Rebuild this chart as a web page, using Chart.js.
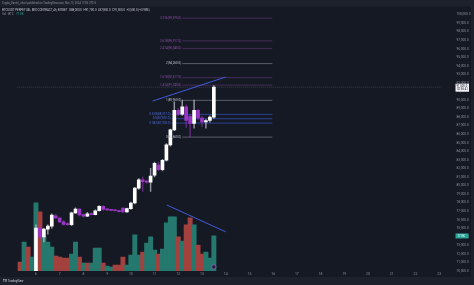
<!DOCTYPE html>
<html>
<head>
<meta charset="utf-8">
<script src="https://cdn.jsdelivr.net/npm/chart.js@4.4.1/dist/chart.umd.min.js"></script>
<style>
  html, body { margin: 0; padding: 0; background: #151924; }
  canvas { display: block; }
</style>
</head>
<body>
<canvas id="btc" width="474" height="285"></canvas>
<script>
// day labels under the time axis, one every 6 candles (4h bars)
const dayLabels = ['6', '7', '8', '9', '10', '11', '12', '13', '14', '15', '16', '17', '18', '19', '20', '21', '22', '23'];
const candlesPerDay = 6;

const priceTicks = [70000, 71000, 72000, 73000, 74000, 75000, 76000, 77000, 78000, 79000, 80000,
    81000, 82000, 83000, 84000, 85000, 86000, 87000, 88000, 89000, 90000,
    91000, 92000, 93000, 94000, 95000, 96000, 97000, 98000, 99000, 100000];

// candles, first one is bar index 0
const firstCandle = 0;
const opens = [69600, 75030, 74000, 74900, 75250, 76450, 76200, 75750, 75500, 75420,
    76800, 77250, 76600, 76400, 76700, 76600, 77050, 77550, 77200, 77150,
    77100, 77050, 77350, 76900, 77300, 77950, 79700, 80650, 80450, 80400,
    81200, 82400, 81850, 82950, 84750, 86500, 88800, 88350, 89200, 88100,
    87250, 88800, 87900, 87450, 87600, 88000];
const highs = [75400, 75350, 75000, 75400, 76700, 76650, 76300, 75900, 75650, 76900,
    77400, 77300, 76700, 76850, 76800, 77150, 77650, 77650, 77250, 77200,
    77150, 77100, 77400, 77350, 78050, 79800, 80800, 81000, 80600, 82000,
    82750, 82700, 83050, 84900, 86600, 89800, 89000, 90000, 89400, 88300,
    90000, 88900, 88100, 87700, 88150, 91700];
const lows = [69400, 73700, 73400, 74300, 75000, 76150, 75650, 75350, 75350, 75300,
    76700, 76450, 76300, 76350, 76550, 76550, 77000, 77100, 77100, 77050,
    77000, 76900, 76850, 76850, 77200, 77850, 79550, 79300, 80250, 79300,
    81000, 81750, 81700, 82850, 84600, 86400, 88200, 88200, 86800, 85700,
    86700, 87750, 86900, 86700, 87400, 87850];
const closes = [75030, 74000, 74900, 75250, 76550, 76200, 75750, 75450, 75420, 76800,
    77250, 76550, 76400, 76700, 76600, 77050, 77550, 77200, 77150, 77100,
    77050, 76950, 76900, 77300, 77950, 79700, 80650, 80450, 80400, 81100,
    82600, 81850, 82950, 84750, 86500, 88800, 88350, 89200, 87600, 87250,
    88800, 87900, 87450, 87600, 88000, 91500];

// volume (thousand BTC), starts 4 bars before the first visible candle
const firstVolume = -4;
const volumes = [19.8, 63.8, 52.8, 30.8, 149.6, 129.8, 74.8, 63.8, 52.8, 33.0,
    30.8, 28.6, 28.6, 37.4, 63.8, 30.8, 17.6, 17.6, 17.6, 50.6,
    50.6, 17.6, 11.0, 8.8, 13.2, 13.2, 30.8, 13.2, 35.2, 79.2,
    35.2, 41.8, 61.6, 74.8, 46.2, 37.4, 48.4, 105.6, 118.8, 118.8,
    74.8, 66.0, 101.2, 116.6, 101.2, 57.2, 37.4, 41.8, 28.6, 77.0];
const volumeUp = [0, 1, 0, 1, 1, 0, 1, 1, 1, 0,
    0, 0, 0, 1, 1, 0, 1, 0, 1, 1,
    1, 0, 1, 1, 0, 0, 0, 1, 1, 1,
    1, 0, 1, 1, 1, 0, 1, 1, 1, 1,
    0, 1, 0, 0, 1, 0, 0, 1, 1, 1];

// fib drawing
const fibLevels = [3.236, 2.618, 2.414, 2, 1.618, 1.414, 1, 0.618, 0.5, 0.382, 0];
const fibPrices = [99575, 96917, 96040, 94260, 92617, 91740, 89960, 88317, 87810, 87303, 85660];
const fibGroup = ['ext', 'ext', 'ext', 'key', 'ext', 'ext', 'key', 'ret', 'ret', 'ret', 'key'];
const fibFrom = { ext: 37, key: 37, ret: 34.3 };
const fibTo = 59.8;

// trend lines (bar index, value)
const priceTrendX = [29.5, 48];
const priceTrendY = [89880, 92690];
const volTrendX = [33.1, 48];
const volTrendY = [145, 86];

const eventX = [45];
const eventY = [9];

const UP = '#ffffff';
const DOWN = '#9c36c6';
const VOL_UP = '#25786e';
const VOL_DOWN = '#a3413f';
const fibStyle = {
    ext: { line: 'rgba(140,72,168,0.4)', text: '#9350b0' },
    key: { line: 'rgba(190,193,200,0.4)', text: '#c4c7cf' },
    ret: { line: 'rgba(58,88,214,0.65)', text: '#4f6ee0' }
};

const fmt = v => v.toLocaleString('en-US', { minimumFractionDigits: 1, maximumFractionDigits: 1 });

const candleX = closes.map((c, k) => firstCandle + k);
const isUp = closes.map((c, k) => c >= opens[k]);

const datasets = [];

datasets.push({
    type: 'bar',
    data: candleX.map((x, k) => ({ x: x, y: [opens[k], closes[k]] })),
    backgroundColor: isUp.map(u => u ? UP : DOWN),
    barThickness: 3,
    minBarLength: 1,
    grouped: false,
    order: 0
});
datasets.push({
    type: 'bar',
    data: candleX.map((x, k) => ({ x: x, y: [lows[k], highs[k]] })),
    backgroundColor: isUp.map(u => u ? 'rgba(200,202,210,0.7)' : 'rgba(156,54,198,0.55)'),
    barThickness: 0.8,
    grouped: false,
    order: 1
});

datasets.push({
    type: 'line',
    data: priceTrendX.map((x, k) => ({ x: x, y: priceTrendY[k] })),
    borderColor: '#3f5bd8',
    borderWidth: 1,
    pointRadius: 0,
    order: 2
});
datasets.push({
    type: 'line',
    yAxisID: 'yv',
    data: volTrendX.map((x, k) => ({ x: x, y: volTrendY[k] })),
    borderColor: '#3f5bd8',
    borderWidth: 1,
    pointRadius: 0,
    order: 2
});

// last price line
datasets.push({
    type: 'line',
    data: [{ x: -4.73, y: closes[closes.length - 1] }, { x: 102.6, y: closes[closes.length - 1] }],
    borderColor: 'rgba(210,212,220,0.2)',
    borderWidth: 1,
    borderDash: [1, 1],
    pointRadius: 0,
    order: 4
});

fibLevels.forEach((lvl, k) => {
    datasets.push({
        type: 'line',
        data: [{ x: fibFrom[fibGroup[k]], y: fibPrices[k] }, { x: fibTo, y: fibPrices[k] }],
        borderColor: fibStyle[fibGroup[k]].line,
        borderWidth: 1,
        pointRadius: 0,
        order: 5
    });
});

datasets.push({
    type: 'bar',
    yAxisID: 'yv',
    data: volumes.map((v, k) => ({ x: firstVolume + k, y: v })),
    backgroundColor: volumeUp.map(u => u ? VOL_UP : VOL_DOWN),
    barThickness: 4.3,
    grouped: false,
    order: 10
});

datasets.push({
    type: 'scatter',
    yAxisID: 'yv',
    data: eventX.map((x, k) => ({ x: x, y: eventY[k] })),
    pointRadius: 2.2,
    borderWidth: 0.8,
    borderColor: '#8e63c9',
    backgroundColor: '#241d38',
    order: 0
});

const tvDecor = {
    id: 'tvDecor',
    beforeDraw(chart) {
        const { ctx, width, height } = chart;
        ctx.save();
        ctx.fillStyle = '#151924';
        ctx.fillRect(0, 0, width, height);
        ctx.fillStyle = '#1d212c';
        ctx.fillRect(0, 0, width, 6.5);
        ctx.fillRect(0, 277, width, height - 277);
        ctx.fillRect(471, 0, 3, height);
        ctx.restore();
    },
    afterDatasetsDraw(chart) {
        const { ctx, scales } = chart;
        ctx.save();
        ctx.font = '3px Roboto';
        ctx.textAlign = 'right';
        ctx.textBaseline = 'middle';
        fibLevels.forEach((lvl, k) => {
            const x = scales.x.getPixelForValue(fibFrom[fibGroup[k]]) - 1;
            const y = scales.y.getPixelForValue(fibPrices[k]);
            ctx.fillStyle = fibStyle[fibGroup[k]].text;
            ctx.fillText(lvl + '(' + fmt(fibPrices[k]) + ')', x, y);
        });
        ctx.restore();
    },
    afterDraw(chart) {
        const { ctx, scales } = chart;
        const n = closes.length - 1;
        ctx.save();
        ctx.textBaseline = 'middle';
        ctx.textAlign = 'left';

        ctx.fillStyle = '#8d909a';
        ctx.font = '2.7px Roboto';
        ctx.fillText('Crypto_Daniel_ chart published on TradingView.com, Nov 13, 2024 17:03 UTC-5', 2, 3.3);

        const chg = closes[n] - closes[n - 1];
        const pct = chg / closes[n - 1] * 100;
        ctx.font = '2.9px Roboto';
        ctx.fillStyle = '#c8cad1';
        ctx.fillText('BTCUSDT PERPETUAL MIX CONTRACT, 4h, BITGET  O' + fmt(opens[n]) + '  H' + fmt(highs[n]) +
            '  L' + fmt(lows[n]) + '  C' + fmt(closes[n]) + '  +' + fmt(chg) + ' (+' + pct.toFixed(2) + '%)', 2, 10);
        ctx.fillStyle = '#9598a1';
        ctx.fillText('Vol · BTC', 2, 14.5);
        ctx.fillStyle = '#26a69a';
        ctx.fillText(volumes[volumes.length - 1].toFixed(1) + 'K', 16, 14.5);

        // last price label
        const py = scales.y.getPixelForValue(closes[n]);
        ctx.fillStyle = '#f0f1f4';
        ctx.fillRect(455.5, py - 3.5, 13.5, 8);
        ctx.fillStyle = '#131722';
        ctx.font = '2.8px Roboto';
        ctx.fillText(fmt(closes[n]), 456.5, py - 1.2);
        ctx.fillText('02:56:41', 457, py + 2.4);

        // last volume label
        const vy = scales.yv.getPixelForValue(volumes[volumes.length - 1]);
        ctx.fillStyle = '#26a69a';
        ctx.fillRect(455.5, vy - 2.5, 13, 5);
        ctx.fillStyle = '#ffffff';
        ctx.fillText(volumes[volumes.length - 1].toFixed(1) + 'K', 457.5, vy + 0.2);

        // footer logo
        ctx.fillStyle = '#d1d4dc';
        ctx.font = 'bold 3px Roboto';
        ctx.fillText('TV', 3, 281);
        ctx.font = '2.8px Roboto';
        ctx.fillText('TradingView', 8, 281);
        ctx.restore();
    }
};

new Chart(document.getElementById('btc'), {
    type: 'bar',
    data: { datasets: datasets },
    options: {
        responsive: false,
        animation: false,
        devicePixelRatio: 1,
        layout: { padding: { top: 7, right: 3, bottom: 8, left: 0 } },
        plugins: { legend: { display: false }, tooltip: { enabled: false } },
        scales: {
            x: {
                type: 'linear',
                min: -4.73,
                max: 102.6,
                grid: { display: false, drawTicks: false },
                border: { display: false },
                afterBuildTicks(axis) {
                    axis.ticks = dayLabels.map((d, k) => ({ value: k * candlesPerDay }));
                },
                afterFit(scale) { scale.height = 6; },
                ticks: {
                    autoSkip: false,
                    maxRotation: 0,
                    padding: 1.5,
                    color: '#8d909a',
                    font: { size: 3.4, family: 'Roboto' },
                    callback: (v, i) => dayLabels[i]
                }
            },
            y: {
                position: 'right',
                min: 70000,
                max: 100880,
                grid: { display: false, drawTicks: false },
                border: { display: false },
                afterBuildTicks(axis) {
                    axis.ticks = priceTicks.map(v => ({ value: v }));
                },
                afterFit(scale) { scale.width = 17; },
                ticks: {
                    autoSkip: false,
                    padding: 2.5,
                    color: '#8d909a',
                    font: { size: 3.2, family: 'Roboto' },
                    callback: v => fmt(v)
                }
            },
            yv: {
                display: false,
                min: 0,
                max: 580
            }
        }
    },
    plugins: [tvDecor]
});
</script>
</body>
</html>
